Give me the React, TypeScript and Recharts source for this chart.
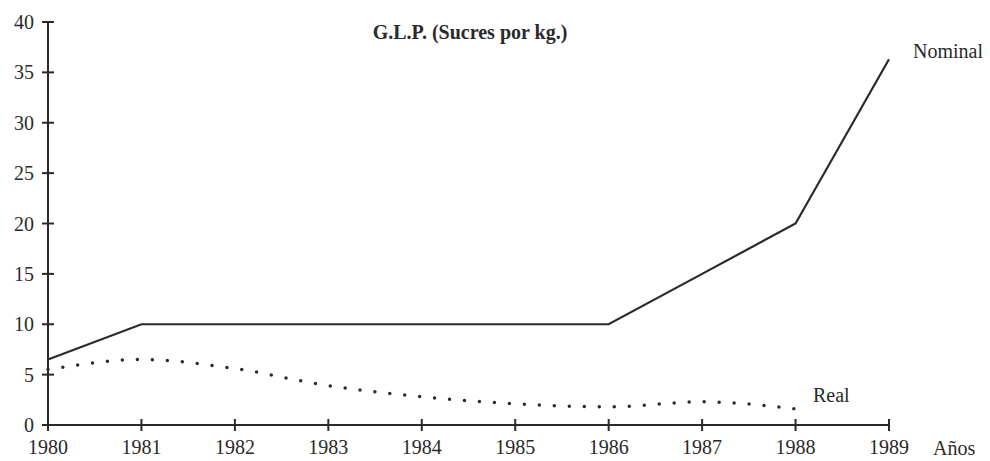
import React from 'react';
import { LineChart, Line, XAxis, YAxis } from 'recharts';

// years on the x axis
const years = [1980, 1981, 1982, 1983, 1984, 1985, 1986, 1987, 1988, 1989];
// G.L.P. price, sucres per kg
const nominal = [6.5, 10, 10, 10, 10, 10, 10, 15, 20, 36.3];
const real = [5.5, 6.5, 5.6, 3.9, 2.8, 2.1, 1.8, 2.3, 1.6, null];
const yTicks = [0, 5, 10, 15, 20, 25, 30, 35, 40];

const data = years.map((year, i) => ({ year, nominal: nominal[i], real: real[i] }));

const INK = '#2a2a2a';
const FONT = '"Liberation Serif", "DejaVu Serif", serif';

// ticks cross the axis on both sides, like the printed chart
const YTick = (props: any) => {
  const { x, y, payload } = props;
  return (
    <g>
      <line x1={x - 6} x2={x + 6} y1={y} y2={y} stroke={INK} strokeWidth={2} />
      <text x={x - 14} y={y} dy={7} textAnchor="end" fontFamily={FONT} fontSize={20} fill={INK}>
        {payload.value}
      </text>
    </g>
  );
};

const XTick = (props: any) => {
  const { x, y, payload } = props;
  return (
    <g>
      <line x1={x} x2={x} y1={y - 6} y2={y + 6} stroke={INK} strokeWidth={2} />
      <text x={x} y={y + 29} textAnchor="middle" fontFamily={FONT} fontSize={20} fill={INK}>
        {payload.value}
      </text>
    </g>
  );
};

const label = (left: number, top: number, size: number, bold = false): React.CSSProperties => ({
  position: 'absolute',
  left,
  top,
  fontFamily: FONT,
  fontSize: size,
  fontWeight: bold ? 'bold' : 'normal',
  color: INK,
  whiteSpace: 'nowrap',
  lineHeight: 1,
});

export default function App() {
  return (
    <div style={{ position: 'absolute', left: 0, top: 0, width: 990, height: 461, background: '#fff' }}>
      <LineChart
        width={990}
        height={461}
        data={data}
        margin={{ top: 22, right: 101, left: 0, bottom: 0 }}
      >
        <XAxis
          dataKey="year"
          type="number"
          domain={[1980, 1989]}
          ticks={years}
          height={36}
          axisLine={{ stroke: INK, strokeWidth: 2 }}
          tickLine={false}
          tickSize={0}
          tickMargin={0}
          tick={<XTick />}
          interval={0}
        />
        <YAxis
          type="number"
          domain={[0, 40]}
          ticks={yTicks}
          width={48}
          axisLine={{ stroke: INK, strokeWidth: 2 }}
          tickLine={false}
          tickSize={0}
          tickMargin={0}
          tick={<YTick />}
          interval={0}
        />
        <Line
          type="linear"
          dataKey="nominal"
          stroke={INK}
          strokeWidth={2.2}
          dot={false}
          isAnimationActive={false}
        />
        <Line
          type="monotone"
          dataKey="real"
          stroke={INK}
          strokeWidth={3.5}
          strokeDasharray="0 15"
          strokeLinecap="round"
          dot={false}
          connectNulls={false}
          isAnimationActive={false}
        />
      </LineChart>
      <div style={{ ...label(270, 22, 20, true), width: 400, textAlign: 'center' }}>
        G.L.P. (Sucres por kg.)
      </div>
      <div style={label(913, 41, 20)}>Nominal</div>
      <div style={label(813, 385, 20)}>Real</div>
      <div style={label(933, 438, 20)}>Años</div>
    </div>
  );
}
